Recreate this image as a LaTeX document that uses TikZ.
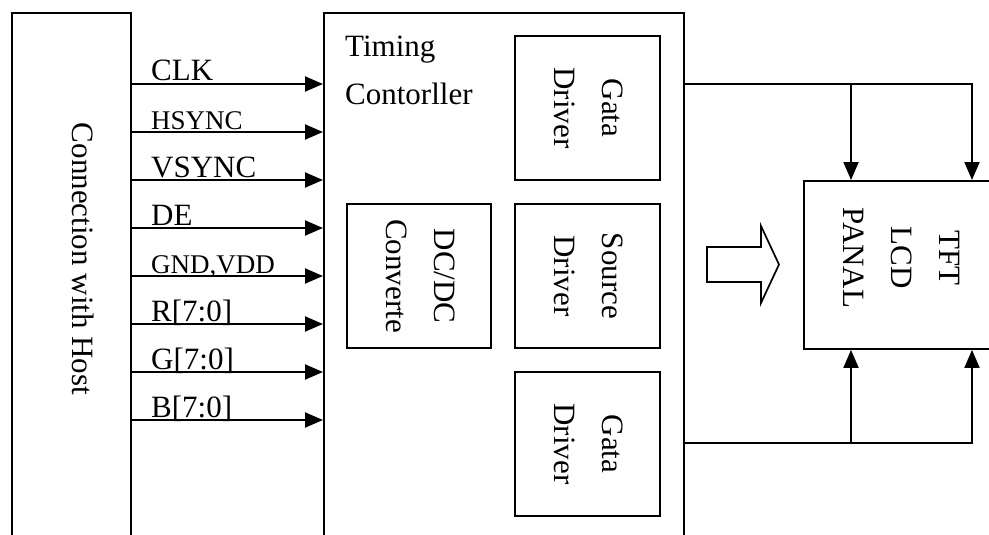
\documentclass[tikz,border=0pt]{standalone}
\usepackage{fontspec}
\setmainfont{Liberation Serif}
\usetikzlibrary{arrows.meta}
\begin{document}
\begin{tikzpicture}[x=1pt,y=-1pt,
  box/.style={draw, line width=1.9pt, inner sep=0pt},
  sig/.style={line width=1.9pt, -{Triangle[length=18pt,width=15pt]}},
  txt/.style={font=\fontsize{31}{48}\selectfont, inner sep=0pt},
  small/.style={font=\fontsize{27}{32}\selectfont, inner sep=0pt},
  rot/.style={txt, rotate=-90, align=center}]
\useasboundingbox (0,0) rectangle (989,535);
\clip (0,0) rectangle (989,535);
% main blocks (open at the bottom of the page)
\node[box, anchor=north west, minimum width=119pt, minimum height=560pt] (host) at (11,12) {};
\node[box, anchor=north west, minimum width=360pt, minimum height=560pt] (tcon) at (323,12) {};
\node[box, minimum width=145pt, minimum height=144pt] (gate1) at (587.5,108) {};
\node[box, minimum width=144pt, minimum height=144pt] (dcdc) at (419,276) {};
\node[box, minimum width=145pt, minimum height=144pt] (src) at (587.5,276) {};
\node[box, minimum width=145pt, minimum height=144pt] (gate2) at (587.5,444) {};
\node[box, anchor=north west, minimum width=220pt, minimum height=168pt] (panel) at (803,180) {};
% texts
\node[txt, rotate=-90] (hostt) at (83.5,259) {Connection with Host};
\node[txt, anchor=base west, align=left] (tct) at (345,105) {Timing\\Contorller};
\node[rot] (gate1t) at (589,108) {Gata\\Driver};
\node[rot] (dcdct) at (421,276) {DC/DC\\Converte};
\node[rot] (srct) at (589,276) {Source\\Driver};
\node[rot] (gate2t) at (589,444) {Gata\\Driver};
\node[rot] (panelt) at (902,258) {TFT\\LCD\\PANAL};
% signal labels
\node[txt, anchor=base west] (lclk) at (151,81) {CLK};
\node[small, anchor=base west] (lhs) at (151,129) {HSYNC};
\node[txt, anchor=base west] (lvs) at (151,177) {VSYNC};
\node[txt, anchor=base west] (lde) at (151,225) {DE};
\node[small, anchor=base west] (lgnd) at (151,273) {GND,VDD};
\node[txt, anchor=base west] (lr) at (151,321) {R[7:0]};
\node[txt, anchor=base west] (lg) at (151,369) {G[7:0]};
\node[txt, anchor=base west] (lb) at (151,417) {B[7:0]};
% signal arrows
\foreach \yy in {84,132,180,228,276,324,372,420}
  \draw[sig] (host.east |- 0,\yy) -- (tcon.west |- 0,\yy);
% driver outputs to panel
\coordinate (jt) at (851,84);
\coordinate (jb) at (851,443);
\draw[sig] (tcon.east |- 0,84) -| (panel.north -| 972,0);
\draw[sig] (jt) -- (panel.north -| jt);
\draw[sig] (tcon.east |- 0,443) -| (panel.south -| 972,0);
\draw[sig] (jb) -- (panel.south -| jb);
% hollow block arrow
\draw[line width=1.7pt, line join=miter] (707,247) -- (761,247) -- (761,226) -- (779,264.5) -- (761,303) -- (761,282) -- (707,282) -- cycle;
\end{tikzpicture}
\end{document}
